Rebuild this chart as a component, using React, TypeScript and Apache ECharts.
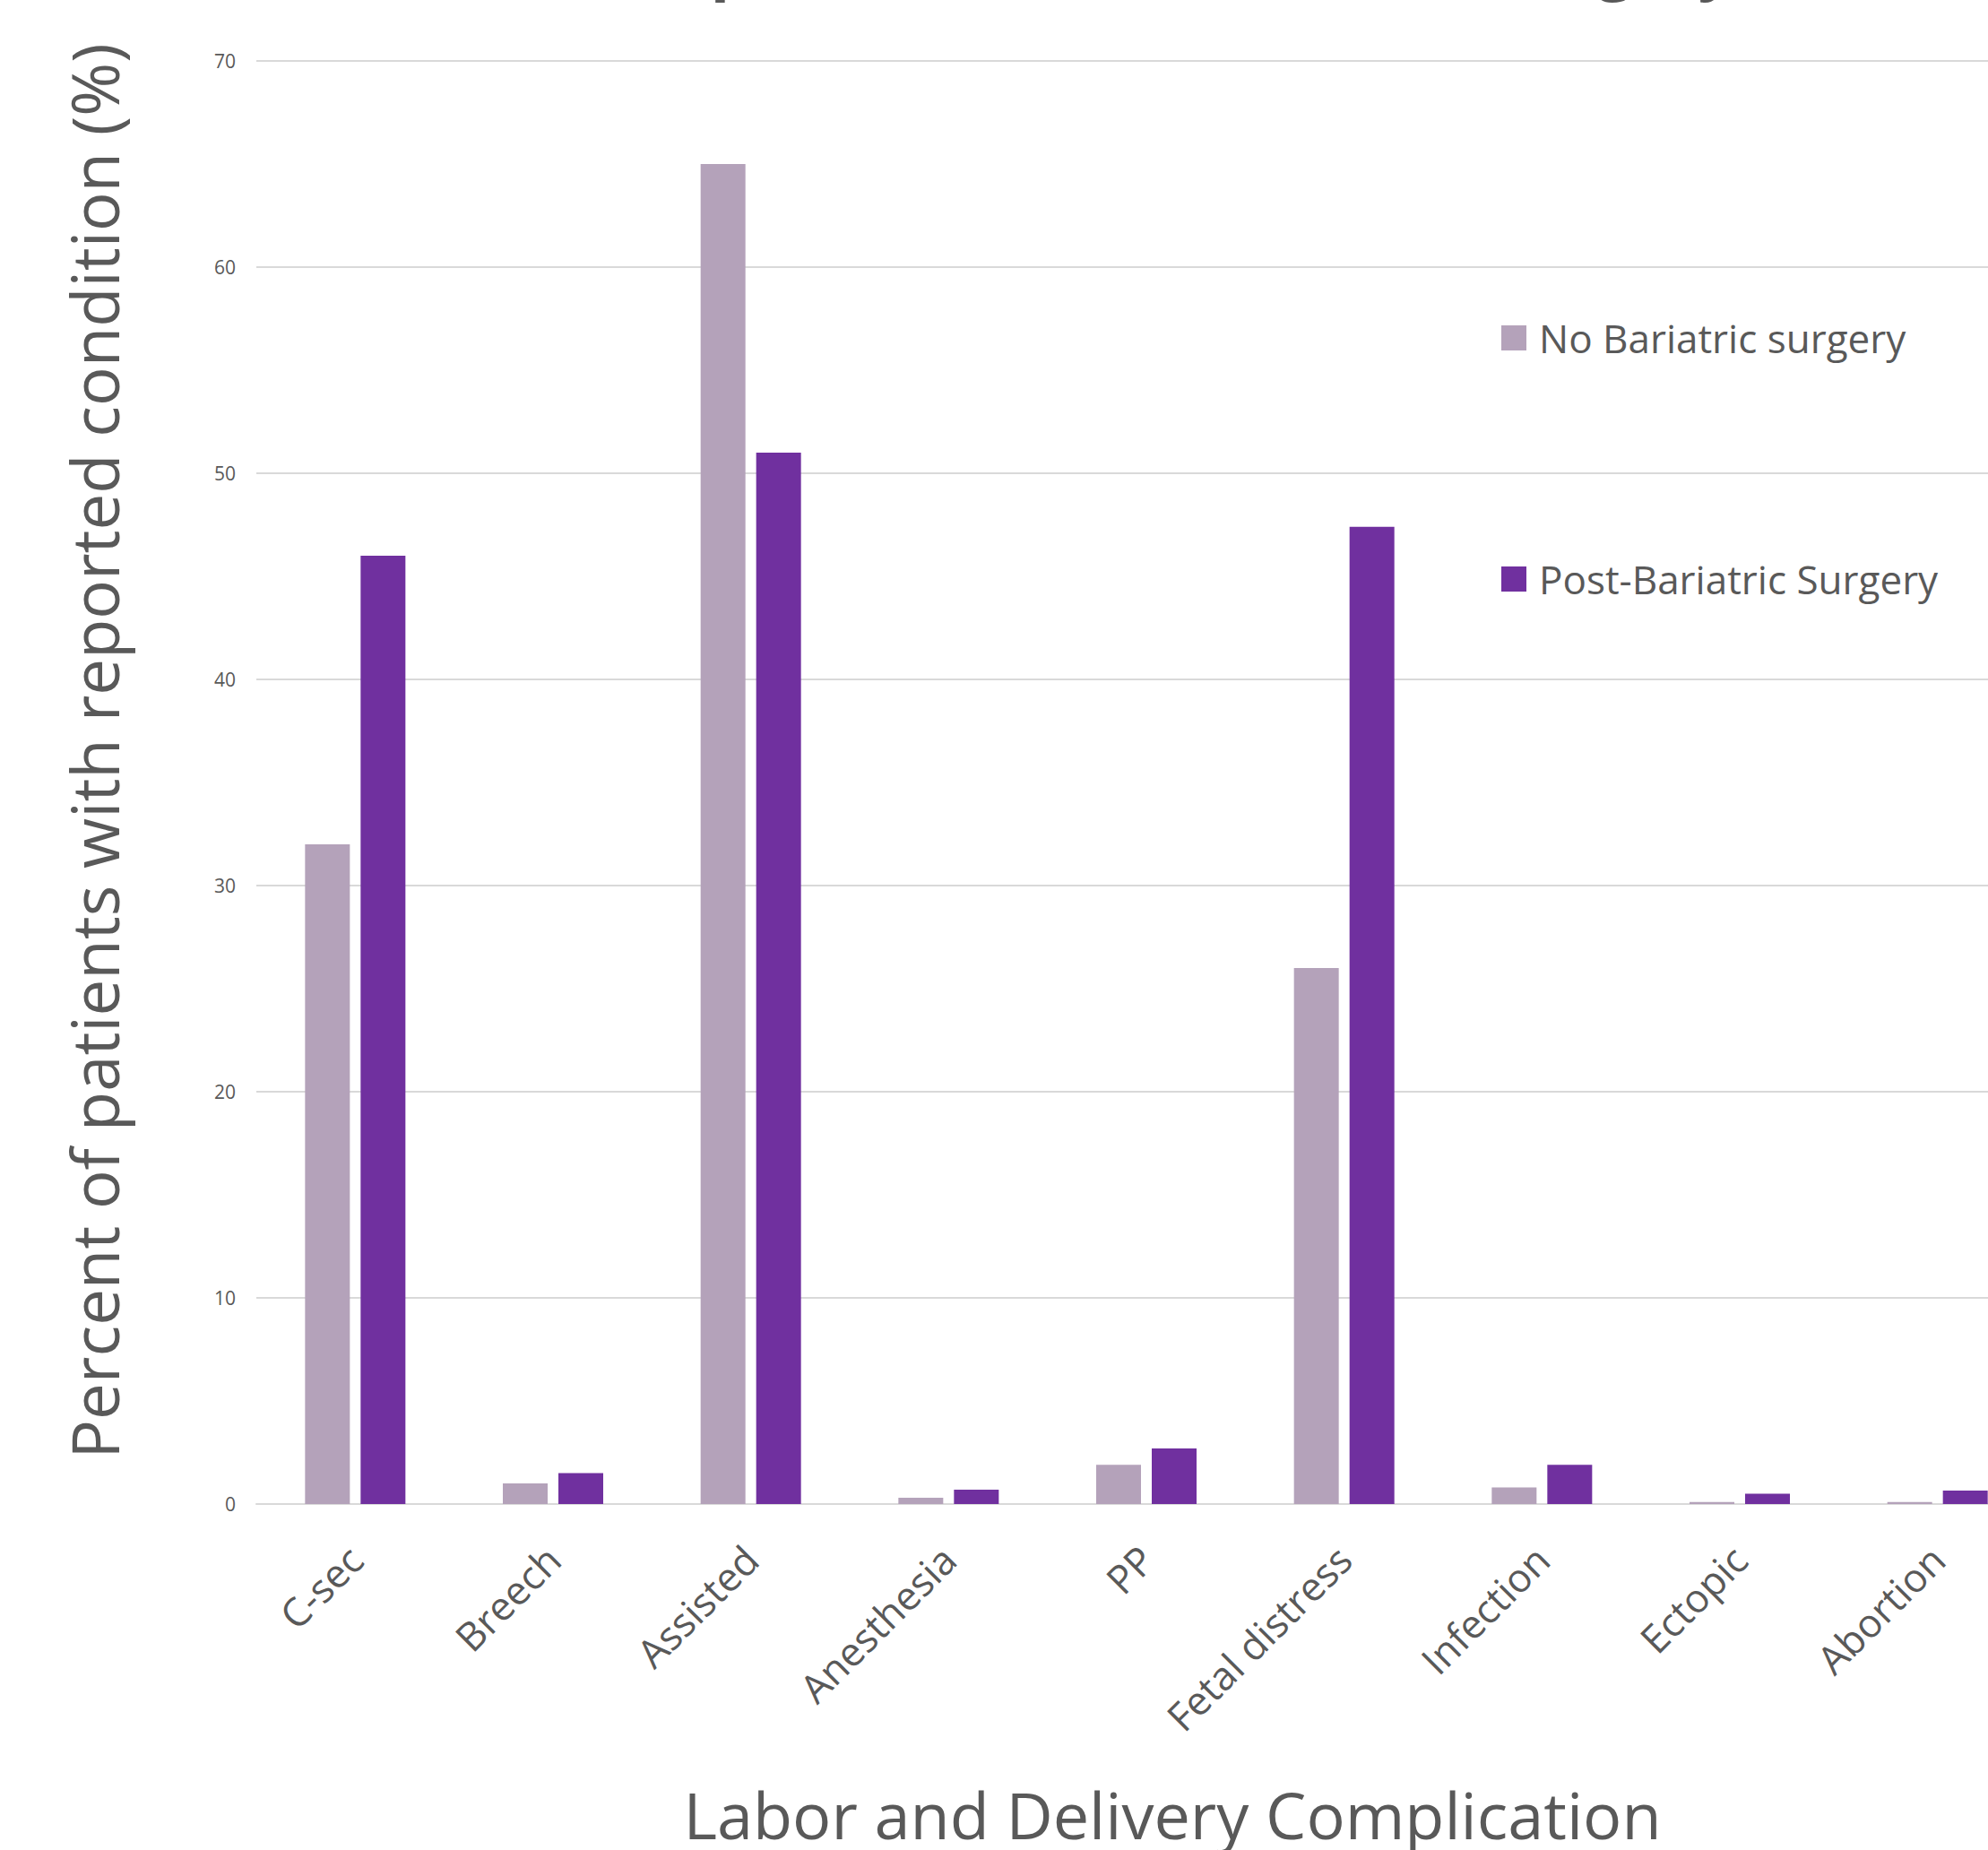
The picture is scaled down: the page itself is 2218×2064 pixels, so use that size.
import React, { useEffect, useRef } from "react";
import * as echarts from "echarts";

const categories = ["C-sec", "Breech", "Assisted", "Anesthesia", "PP", "Fetal distress", "Infection", "Ectopic", "Abortion"];
const noSurgery = [32.0, 1.0, 65.0, 0.3, 1.9, 26.0, 0.8, 0.1, 0.1];
const postSurgery = [46.0, 1.5, 51.0, 0.7, 2.7, 47.4, 1.9, 0.5, 0.65];
const seriesNames = ["No Bariatric surgery", "Post-Bariatric Surgery"];
const titleText = "Complications after Bariatric Surgery";
const yTitle = "Percent of patients with reported condition (%)";
const xTitle = "Labor and Delivery Complication";

const TEXT = "#595959";
const FONT = "'Open Sans', 'Noto Sans', sans-serif";

export default function App() {
  const ref = useRef<HTMLDivElement>(null);
  useEffect(() => {
    if (!ref.current) return;
    const chart = echarts.init(ref.current, null, { renderer: "svg" });
    chart.setOption({
      animation: false,
      backgroundColor: "#ffffff",
      textStyle: { fontFamily: FONT },
      grid: { left: 286, top: 68, width: 1986, height: 1610, containLabel: false },
      legend: {
        orient: "vertical",
        left: 1675,
        top: 352,
        padding: 0,
        itemWidth: 28,
        itemHeight: 28,
        itemGap: 219,
        icon: "rect",
        textStyle: { color: TEXT, fontSize: 44, fontFamily: FONT, lineHeight: 50, padding: [0, 0, 0, 9] },
        data: seriesNames,
      },
      xAxis: {
        type: "category",
        data: categories,
        axisLine: { show: true, lineStyle: { color: "#D9D9D9", width: 2 } },
        axisTick: { show: false },
        axisLabel: { rotate: 45, interval: 0, margin: 54, color: TEXT, fontSize: 44, fontFamily: FONT },
      },
      yAxis: {
        type: "value",
        min: 0,
        max: 70,
        interval: 10,
        axisLine: { show: false },
        axisTick: { show: false },
        splitLine: { lineStyle: { color: "#D9D9D9", width: 2 } },
        axisLabel: { margin: 23, color: TEXT, fontSize: 21, fontFamily: FONT },
      },
      series: [
        {
          name: seriesNames[0],
          type: "bar",
          data: noSurgery,
          barWidth: 50,
          barGap: "24%",
          itemStyle: { color: "#B4A2BA" },
        },
        {
          name: seriesNames[1],
          type: "bar",
          data: postSurgery,
          barWidth: 50,
          itemStyle: { color: "#70309F" },
        },
      ],
      graphic: [
        {
          type: "text",
          x: 636,
          y: -41,
          style: { text: titleText, fill: TEXT, font: `bold 70px ${FONT}`, textAlign: "left", textVerticalAlign: "middle" },
        },
        {
          type: "text",
          x: 105,
          y: 838,
          rotation: Math.PI / 2,
          style: { text: yTitle, fill: TEXT, font: `72.5px ${FONT}`, textAlign: "center", textVerticalAlign: "middle" },
        },
        {
          type: "text",
          x: 1308,
          y: 2024,
          style: { text: xTitle, fill: TEXT, font: `72px ${FONT}`, textAlign: "center", textVerticalAlign: "middle" },
        },
      ],
    });
    return () => chart.dispose();
  }, []);
  return (
    <div style={{ position: "absolute", left: 0, top: 0, width: 2218, height: 2064, overflow: "hidden", background: "#fff" }}>
      <div ref={ref} style={{ position: "absolute", left: 0, top: 0, width: 2300, height: 2064 }} />
    </div>
  );
}
